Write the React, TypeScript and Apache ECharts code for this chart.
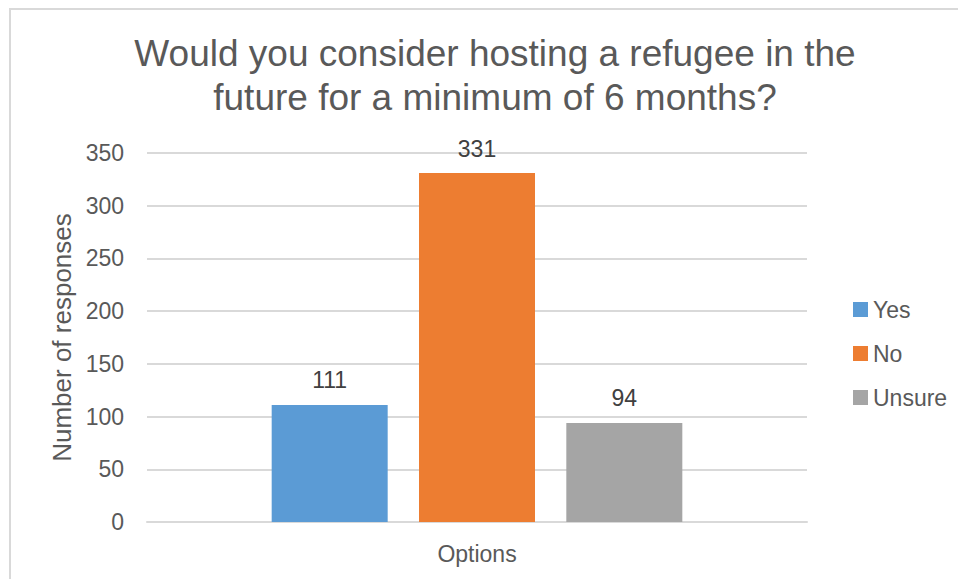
import React, { useEffect, useRef } from "react";
import * as echarts from "echarts";

const categories = ["Options"];
const seriesNames = ["Yes", "No", "Unsure"];
const seriesValues = [[111], [331], [94]];
const colors = ["#5b9bd5", "#ed7d31", "#a5a5a5"];
const titleText = "Would you consider hosting a refugee in the\nfuture for a minimum of 6 months?";
const yAxisName = "Number of responses";

export default function App() {
  const ref = useRef<HTMLDivElement>(null);
  useEffect(() => {
    document.body.style.margin = "0";
    const chart = echarts.init(ref.current!, null, { renderer: "svg" });
    const font = "'Liberation Sans', Arial, sans-serif";
    chart.setOption({
      animation: false,
      textStyle: { fontFamily: font },
      title: {
        text: titleText,
        left: 490,
        top: 26,
        textAlign: "center",
        textStyle: { fontFamily: font, fontSize: 37, fontWeight: "normal", color: "#595959", lineHeight: 44 },
      },
      graphic: [
        {
          type: "rect",
          shape: { x: 10, y: 9, width: 1200, height: 1200 },
          style: { fill: "none", stroke: "#d9d9d9", lineWidth: 2 },
          silent: true,
        },
      ],
      legend: {
        orient: "vertical",
        left: 848,
        top: 293,
        itemWidth: 15,
        itemHeight: 15,
        itemGap: 21,
        icon: "rect",
        textStyle: { fontFamily: font, fontSize: 23, color: "#595959" },
        data: seriesNames,
      },
      grid: { left: 147, right: 151, top: 153, bottom: 57, containLabel: false },
      xAxis: {
        type: "category",
        data: categories,
        axisLine: { lineStyle: { color: "#d9d9d9", width: 2 } },
        axisTick: { show: false },
        axisLabel: { fontFamily: font, fontSize: 23, color: "#595959", margin: 20 },
      },
      yAxis: {
        type: "value",
        min: 0,
        max: 350,
        interval: 50,
        name: yAxisName,
        nameLocation: "middle",
        nameGap: 70,
        nameTextStyle: { fontFamily: font, fontSize: 26, color: "#595959" },
        axisLine: { show: false },
        axisTick: { show: false },
        axisLabel: { fontFamily: font, fontSize: 23, color: "#595959", margin: 23 },
        splitLine: { lineStyle: { color: "#d9d9d9", width: 2 } },
      },
      series: seriesNames.map((name, i) => ({
        name,
        type: "bar",
        data: seriesValues[i],
        barWidth: 116,
        barGap: "27%",
        itemStyle: { color: colors[i] },
        label: {
          show: true,
          position: "top",
          distance: 13,
          fontFamily: font,
          fontSize: 23,
          color: "#404040",
        },
      })),
    });
    return () => chart.dispose();
  }, []);
  return <div ref={ref} style={{ width: 958, height: 579 }} />;
}
